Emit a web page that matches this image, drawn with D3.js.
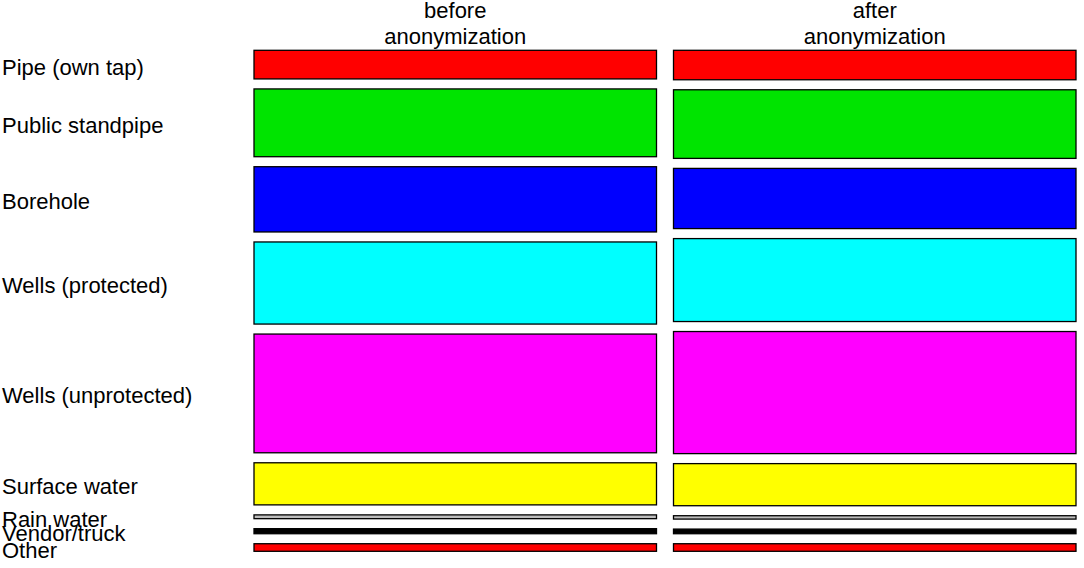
<!DOCTYPE html>
<html>
<head>
<meta charset="utf-8">
<script src="https://cdn.jsdelivr.net/npm/d3@7"></script>
<style>
  body { margin: 0; background: #fff; }
  text { font-family: "Liberation Sans", Arial, sans-serif; font-size: 22px; fill: #000; }
</style>
</head>
<body>
<div id="chart"></div>
<script>
// Mosaic plot data (percent of households per water source)
var groups = ["before", "after"];
var groupTitles = [["before", "anonymization"], ["after", "anonymization"]];
var sources = ["Pipe (own tap)", "Public standpipe", "Borehole", "Wells (protected)",
  "Wells (unprotected)", "Surface water", "Rain water", "Vendor/truck", "Other"];
var beforeValues = [6.8, 16.1, 15.5, 19.5, 28.2, 10.0, 0.9, 1.2, 1.8];
var afterValues = [7.0, 16.3, 14.3, 19.7, 29.0, 10.0, 0.8, 1.1, 1.8];
var colors = ["#ff0000", "#00e400", "#0000ff", "#00ffff", "#ff00ff", "#ffff00", "#bebebe", "#000000", "#ff0000"];

// Set up our chart area
//================================
var svgWidth = 1084;
var svgHeight = 568;
var plotTop = 50.3;
var plotBottom = 551.3;
var gap = 10;

var svg = d3.select("#chart")
  .append("svg")
  .attr("width", svgWidth)
  .attr("height", svgHeight);

// columns
var xScale = d3.scaleBand()
  .domain(groups)
  .range([254, 1076])
  .paddingInner(17 / 419.5)
  .paddingOuter(0);

// heights of the cells (space left after the gaps)
var cellSpace = (plotBottom - plotTop) - gap * (sources.length - 1);
var hScale = d3.scaleLinear()
  .domain([0, 100])
  .range([0, cellSpace]);

function layout(values) {
  var cum = 0;
  return values.map(function(v, i) {
    var y0 = plotTop + hScale(cum) + i * gap;
    cum += v;
    return { i: i, y: y0, h: hScale(v) };
  });
}

var columns = [
  { key: "before", cells: layout(beforeValues) },
  { key: "after", cells: layout(afterValues) }
];

columns.forEach(function(col) {
  var x = xScale(col.key);
  svg.append("g")
    .selectAll("rect")
    .data(col.cells)
    .enter()
    .append("rect")
    .attr("x", x)
    .attr("y", d => d.y)
    .attr("width", xScale.bandwidth())
    .attr("height", d => d.h)
    .attr("fill", d => colors[d.i])
    .attr("stroke", "#000")
    .attr("stroke-width", 1.3);
});

// column titles
groups.forEach(function(g, gi) {
  var cx = xScale(g) + xScale.bandwidth() / 2;
  groupTitles[gi].forEach(function(line, li) {
    svg.append("text")
      .attr("x", cx)
      .attr("y", 18 + li * 26)
      .attr("text-anchor", "middle")
      .text(line);
  });
});

// row labels, centred on the first column's cells
svg.append("g")
  .selectAll("text")
  .data(columns[0].cells)
  .enter()
  .append("text")
  .attr("x", 2)
  .attr("y", d => d.y + d.h / 2 + 10)
  .text(d => sources[d.i]);
</script>
</body>
</html>
